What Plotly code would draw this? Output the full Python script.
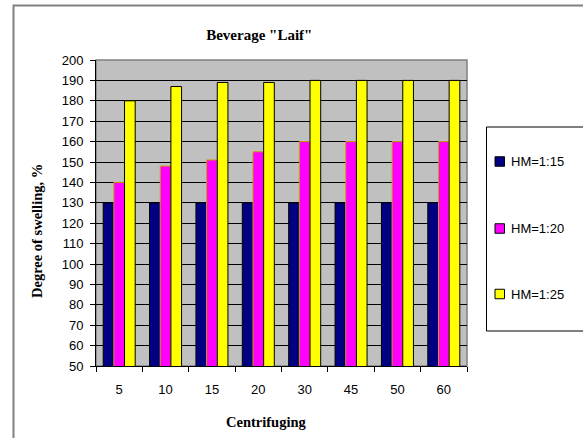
import plotly.graph_objects as go

# Centrifuging duration categories
categories = ["5", "10", "15", "20", "30", "45", "50", "60"]

# Degree of swelling, % for each hydromodule
hm_1_15 = [130, 130, 130, 130, 130, 130, 130, 130]
hm_1_20 = [140, 148, 151, 155, 160, 160, 160, 160]
hm_1_25 = [180, 187, 189, 189, 190, 190, 190, 190]

series_names = ["HM=1:15", "HM=1:20", "HM=1:25"]
series_values = [hm_1_15, hm_1_20, hm_1_25]
fill_colors = ["#000080", "#FF00FF", "#FFFF00"]
edge_colors = ["#000000", "#C8A000", "#000000"]

W, H = 583, 438
L, R, T, B = 96, 116, 60, 72
pw, ph = W - L - R, H - T - B


def px_x(x):
    return (x - L) / pw


def px_y(y):
    return (H - B - y) / ph


fig = go.Figure()
for i, (name, vals) in enumerate(zip(series_names, series_values)):
    fig.add_trace(go.Bar(
        x=categories, y=vals, name=name, showlegend=False,
        marker=dict(color=fill_colors[i], line=dict(color=edge_colors[i], width=1)),
    ))

serif = "Liberation Serif, Times New Roman, serif"
sans = "Liberation Sans, Arial, sans-serif"

shapes = [
    # outer chart frame
    dict(type="rect", xref="paper", yref="paper",
         x0=px_x(13.5), x1=px_x(600), y0=px_y(460), y1=px_y(5.5),
         line=dict(color="#808080", width=2), layer="below"),
    # plot area border
    dict(type="rect", xref="paper", yref="paper", x0=0, x1=1, y0=0, y1=1,
         line=dict(color="#808080", width=1.5), layer="below"),
    # legend box
    dict(type="rect", xref="paper", yref="paper",
         x0=px_x(486.5), x1=px_x(600), y0=px_y(331), y1=px_y(127),
         line=dict(color="#000000", width=1)),
]

annotations = [
    dict(text="<b>Degree of swelling, %</b>", xref="paper", yref="paper",
         x=px_x(37), y=px_y(231), textangle=-90, showarrow=False,
         xanchor="center", yanchor="middle",
         font=dict(family=serif, size=14.5, color="#000000")),
    dict(text="<b>Centrifuging</b>", xref="paper", yref="paper",
         x=px_x(266), y=px_y(422), showarrow=False,
         xanchor="center", yanchor="middle",
         font=dict(family=serif, size=14.5, color="#000000")),
]

# legend entries: swatch plus label, one row per series
legend_rows = [161.5, 228.5, 294]
for i, name in enumerate(series_names):
    cy = legend_rows[i]
    shapes.append(dict(type="rect", xref="paper", yref="paper",
                       x0=px_x(495), x1=px_x(504.5),
                       y0=px_y(cy + 4.75), y1=px_y(cy - 4.75),
                       fillcolor=fill_colors[i],
                       line=dict(color="#000000", width=1)))
    annotations.append(dict(text=name, xref="paper", yref="paper",
                            x=px_x(509), y=px_y(cy), showarrow=False,
                            xanchor="left", yanchor="middle",
                            font=dict(family=sans, size=13, color="#000000")))

fig.update_layout(
    width=W, height=H,
    margin=dict(l=L, r=R, t=T, b=B, autoexpand=False),
    paper_bgcolor="#FFFFFF",
    plot_bgcolor="#C0C0C0",
    barmode="group", bargap=0.31, bargroupgap=0,
    title=dict(text="<b>Beverage \"Laif\"</b>", x=px_x(261), xanchor="center",
               y=(H - 35) / H, yanchor="middle",
               font=dict(family=serif, size=15, color="#000000")),
    xaxis=dict(
        type="category", tickson="boundaries", ticks="outside", ticklen=5,
        tickcolor="#000000", showline=True, linecolor="#000000", linewidth=1,
        showgrid=False, tickfont=dict(family=sans, size=13, color="#000000"),
        ticklabelstandoff=11, automargin=False,
    ),
    yaxis=dict(
        range=[50, 200], dtick=10, tick0=50, ticks="outside", ticklen=5,
        tickcolor="#000000", showline=True, linecolor="#000000", linewidth=1,
        showgrid=True, gridcolor="#000000", gridwidth=1, zeroline=False,
        tickfont=dict(family=sans, size=13, color="#000000"),
        ticklabelstandoff=4, automargin=False,
    ),
    shapes=shapes,
    annotations=annotations,
    showlegend=False,
)

fig.write_html("out.html")
